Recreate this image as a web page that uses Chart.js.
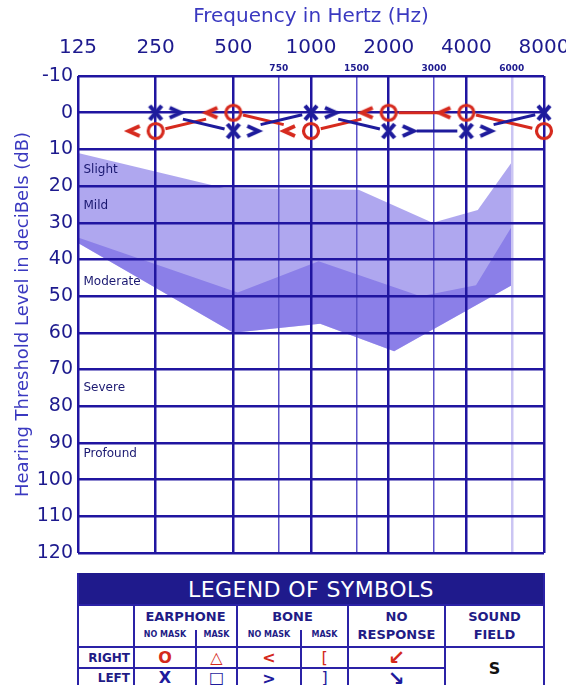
<!DOCTYPE html>
<html>
<head>
<meta charset="utf-8">
<script src="https://cdn.jsdelivr.net/npm/chart.js@4.4.1/dist/chart.umd.min.js"></script>
<style>
body { margin: 0; background: #fff; }
#wrap { position: relative; width: 566px; height: 685px; overflow: hidden; font-family: "DejaVu Sans", Verdana, sans-serif; }
#audiogram { position: absolute; left: 0; top: 0; }
#legend { position: absolute; left: 77px; top: 573px; width: 468px; height: 116px; }
#legend .head { position: absolute; left: 0; top: 0; width: 468px; height: 32px; background: #1f1a8c; color: #fff;
  font-size: 22px; line-height: 33px; text-align: center; letter-spacing: 0.4px; }
#legend .ln { position: absolute; background: #2b22a6; }
#legend .t { position: absolute; text-align: center; color: #1f1c86; font-weight: bold; white-space: nowrap; }
#legend .big { font-size: 13px; height: 16px; line-height: 16px; }
#legend .small { font-size: 8px; height: 10px; line-height: 10px; }
#legend .sym { font-size: 16px; height: 20px; line-height: 20px; }
.red { color: #d42a1c !important; }
.blue { color: #1e1b9c !important; }
</style>
</head>
<body>
<div id="wrap">
  <canvas id="audiogram" width="566" height="565"></canvas>

  <div id="legend">
    <div class="head">LEGEND OF SYMBOLS</div>
    <!-- table rules -->
    <div class="ln" style="left:0;top:31px;width:468px;height:2px"></div>
    <div class="ln" style="left:0;top:73px;width:468px;height:2px"></div>
    <div class="ln" style="left:0;top:94px;width:368px;height:2px"></div>
    <div class="ln" style="left:0;top:0;width:2px;height:116px"></div>
    <div class="ln" style="left:466px;top:0;width:2px;height:116px"></div>
    <div class="ln" style="left:56px;top:31px;width:2px;height:85px"></div>
    <div class="ln" style="left:159px;top:31px;width:2px;height:85px"></div>
    <div class="ln" style="left:270px;top:31px;width:2px;height:85px"></div>
    <div class="ln" style="left:367px;top:31px;width:2px;height:85px"></div>
    <div class="ln" style="left:118px;top:57px;width:1.5px;height:59px"></div>
    <div class="ln" style="left:223px;top:57px;width:1.5px;height:59px"></div>

    <div class="t big" style="left:57px;width:103px;top:36px">EARPHONE</div>
    <div class="t small" style="left:57px;width:62px;top:57px">NO MASK</div>
    <div class="t small" style="left:119px;width:41px;top:57px">MASK</div>
    <div class="t big" style="left:160px;width:111px;top:36px">BONE</div>
    <div class="t small" style="left:160px;width:64px;top:57px">NO MASK</div>
    <div class="t small" style="left:224px;width:47px;top:57px">MASK</div>
    <div class="t big" style="left:271px;width:97px;top:36px">NO</div>
    <div class="t big" style="left:271px;width:97px;top:54px">RESPONSE</div>
    <div class="t big" style="left:368px;width:99px;top:36px">SOUND</div>
    <div class="t big" style="left:368px;width:99px;top:54px">FIELD</div>

    <div class="t big" style="left:0;width:53px;top:77px;text-align:right;font-size:12px">RIGHT</div>
    <div class="t big" style="left:0;width:53px;top:97px;text-align:right;font-size:12px">LEFT</div>

    <div class="t sym red" style="left:57px;width:62px;top:75px">O</div>
    <div class="t sym red" style="left:119px;width:41px;top:75px;font-weight:normal">△</div>
    <div class="t sym red" style="left:160px;width:64px;top:75px">&lt;</div>
    <div class="t sym red" style="left:224px;width:47px;top:75px;font-weight:normal">[</div>
    <div class="t sym red" style="left:271px;width:97px;top:74px;font-size:20px">↙</div>

    <div class="t sym blue" style="left:57px;width:62px;top:95px">X</div>
    <div class="t sym blue" style="left:119px;width:41px;top:95px;font-weight:normal">□</div>
    <div class="t sym blue" style="left:160px;width:64px;top:96px">&gt;</div>
    <div class="t sym blue" style="left:224px;width:47px;top:95px;font-weight:normal">]</div>
    <div class="t sym blue" style="left:271px;width:97px;top:95px;font-size:20px">↘</div>

    <div class="t sym" style="left:368px;width:99px;top:86px;color:#111">S</div>
  </div>
</div>

<script>
// Ejes
const majorFreqs = [125, 250, 500, 1000, 2000, 4000, 8000];
const minorFreqs = [750, 1500, 3000, 6000];
const dbMin = -10;
const dbMax = 120;
const dbStep = 10;

// Umbrales medidos (dB HL)
const testFreqs = [250, 500, 1000, 2000, 4000, 8000];
const rightAir = [5, 0, 5, 0, 0, 5];
const leftAir = [0, 5, 0, 5, 5, 0];
const boneFreqs = [250, 500, 1000, 2000, 4000];
const rightBone = [5, 0, 5, 0, 0];
const leftBone = [0, 5, 0, 5, 5];

// Zona sombreada (banana del habla)
const bandTopFreqs = [125, 460, 1530, 2960, 4430, 6000];
const bandTopDb = [11, 20.5, 21, 30, 26.5, 13.5];
const bandMidFreqs = [125, 520, 1070, 2660, 4360, 6000];
const bandMidDb = [34, 49, 40.5, 50, 47, 31];
const bandLowFreqs = [125, 500, 1085, 2100, 6000];
const bandLowDb = [35.5, 60, 57.5, 65, 47];

// Grados de pérdida
const degreeNames = ['Slight', 'Mild', 'Moderate', 'Severe', 'Profound'];
const degreeDb = [15.5, 25.3, 46, 75, 93];

const fontFamily = '"DejaVu Sans", Verdana, sans-serif';
const gridBlue = '#2015a0';
const textBlue = '#1d1a8e';
const titleBlue = '#3a39c0';
const earRed = '#d62a1e';
const earBlue = '#1e1b9c';
const bandColor = 'rgba(110, 95, 225, 0.55)';

Chart.defaults.font.family = fontFamily;

const toPoints = (xs, ys) => xs.map((x, i) => ({ x: x, y: ys[i] }));
const hasBone = f => boneFreqs.includes(f);

// Dibuja un símbolo en un canvas pequeño para usarlo como pointStyle
function glyph(w, h, draw) {
    const c = document.createElement('canvas');
    c.width = w;
    c.height = h;
    const g = c.getContext('2d');
    draw(g, w / 2, h / 2);
    return c;
}

const circleMark = glyph(24, 24, (g, cx, cy) => {
    g.strokeStyle = earRed;
    g.lineWidth = 3.2;
    g.beginPath();
    g.arc(cx, cy, 7.5, 0, Math.PI * 2);
    g.stroke();
});
const crossMark = glyph(24, 24, (g, cx, cy) => {
    g.strokeStyle = earBlue;
    g.lineWidth = 4.2;
    g.beginPath();
    g.moveTo(cx - 6, cy - 7); g.lineTo(cx + 6, cy + 7);
    g.moveTo(cx + 6, cy - 7); g.lineTo(cx - 6, cy + 7);
    g.stroke();
});
// los símbolos de vía ósea van desplazados a un lado de la frecuencia
const boneRightMark = glyph(64, 20, (g, cx, cy) => {
    const x = cx - 22;
    g.strokeStyle = earRed;
    g.lineWidth = 4;
    g.beginPath();
    g.moveTo(x + 6, cy - 5); g.lineTo(x - 5, cy); g.lineTo(x + 6, cy + 5);
    g.stroke();
});
const boneLeftMark = glyph(64, 20, (g, cx, cy) => {
    const x = cx + 20;
    g.strokeStyle = earBlue;
    g.lineWidth = 4;
    g.beginPath();
    g.moveTo(x - 6, cy - 5); g.lineTo(x + 5, cy); g.lineTo(x - 6, cy + 5);
    g.stroke();
});

// Líneas entre símbolos, con un hueco alrededor de cada marca
const earLines = {
    id: 'earLines',
    beforeDatasetsDraw(chart) {
        const ctx = chart.ctx;
        chart.data.datasets.forEach((ds, i) => {
            if (!ds.ear) return;
            const pts = chart.getDatasetMeta(i).data;
            ctx.save();
            ctx.strokeStyle = ds.ear === 'right' ? earRed : earBlue;
            ctx.lineWidth = 3;
            for (let k = 0; k < pts.length - 1; k++) {
                const a = pts[k], b = pts[k + 1];
                const len = Math.hypot(b.x - a.x, b.y - a.y);
                const ux = (b.x - a.x) / len, uy = (b.y - a.y) / len;
                let g0, g1;
                if (ds.ear === 'right') {
                    g0 = 10;
                    g1 = hasBone(testFreqs[k + 1]) ? 28 : 12;
                } else {
                    g0 = hasBone(testFreqs[k]) ? 28 : 12;
                    g1 = 9;
                }
                ctx.beginPath();
                ctx.moveTo(a.x + ux * g0, a.y + uy * g0);
                ctx.lineTo(b.x - ux * g1, b.y - uy * g1);
                ctx.stroke();
            }
            ctx.restore();
        });
    }
};

// Etiquetas de grado de pérdida dentro del gráfico
const degreeLabels = {
    id: 'degreeLabels',
    afterDatasetsDraw(chart) {
        const { ctx, chartArea, scales } = chart;
        ctx.save();
        ctx.fillStyle = '#1a1870';
        ctx.font = '12px ' + fontFamily;
        ctx.textBaseline = 'middle';
        degreeNames.forEach((name, i) => {
            ctx.fillText(name, chartArea.left + 5.5, scales.y.getPixelForValue(degreeDb[i]));
        });
        ctx.restore();
    }
};

const lightBand = toPoints(bandTopFreqs, bandTopDb).concat(toPoints(bandLowFreqs, bandLowDb).reverse());
const darkBand = toPoints(bandMidFreqs, bandMidDb).concat(toPoints(bandLowFreqs, bandLowDb).reverse());

const bandDataset = data => ({
    data: data,
    showLine: true,
    fill: 'shape',
    backgroundColor: bandColor,
    borderWidth: 0,
    pointRadius: 0,
    order: 10
});

const markDataset = (data, style, ear) => ({
    data: data,
    ear: ear,
    pointStyle: style,
    pointRadius: 8,
    clip: false,
    order: 1
});

new Chart(document.getElementById('audiogram'), {
    type: 'scatter',
    data: {
        datasets: [
            bandDataset(lightBand),
            bandDataset(darkBand),
            markDataset(toPoints(testFreqs, rightAir), circleMark, 'right'),
            markDataset(toPoints(testFreqs, leftAir), crossMark, 'left'),
            markDataset(toPoints(boneFreqs, rightBone), boneRightMark),
            markDataset(toPoints(boneFreqs, leftBone), boneLeftMark)
        ]
    },
    options: {
        responsive: false,
        animation: false,
        events: [],
        layout: { padding: { left: 0, right: 22, top: 0, bottom: 12 } },
        plugins: {
            legend: { display: false },
            tooltip: { enabled: false },
            filler: { drawTime: 'beforeDraw' }
        },
        scales: {
            x: {
                type: 'logarithmic',
                position: 'top',
                min: 125,
                max: 8000,
                bounds: 'data',
                weight: 1,
                afterBuildTicks: s => { s.ticks = majorFreqs.map(v => ({ value: v })); },
                afterFit: s => { s.height = 62; s.paddingLeft = 0; s.paddingRight = 0; },
                ticks: {
                    autoSkip: false,
                    maxRotation: 0,
                    color: textBlue,
                    font: { size: 20 },
                    padding: 2,
                    callback: v => String(v)
                },
                grid: { color: gridBlue, lineWidth: 2.5, drawTicks: false },
                border: { display: false },
                title: {
                    display: true,
                    text: 'Frequency in Hertz (Hz)',
                    color: titleBlue,
                    font: { size: 20 },
                    padding: { top: 5, bottom: 0 }
                }
            },
            xMinor: {
                type: 'logarithmic',
                position: 'top',
                min: 125,
                max: 8000,
                bounds: 'data',
                weight: 0,
                afterBuildTicks: s => { s.ticks = minorFreqs.map(v => ({ value: v })); },
                afterFit: s => { s.height = 14; s.paddingLeft = 0; s.paddingRight = 0; },
                ticks: {
                    autoSkip: false,
                    maxRotation: 0,
                    color: textBlue,
                    font: { size: 9, weight: 'bold' },
                    padding: 2,
                    callback: v => String(v)
                },
                grid: {
                    color: c => (c.tick && c.tick.value === 6000) ? '#cbc5f3' : '#5b52c9',
                    lineWidth: c => (c.tick && c.tick.value === 6000) ? 2.5 : 1.5,
                    drawTicks: false
                },
                border: { display: false }
            },
            y: {
                type: 'linear',
                reverse: true,
                min: dbMin,
                max: dbMax,
                afterFit: s => { s.width = 78; s.paddingTop = 0; s.paddingBottom = 0; },
                ticks: { stepSize: dbStep, color: textBlue, font: { size: 19 }, padding: 5 },
                grid: { color: gridBlue, lineWidth: 2.5, drawTicks: false },
                border: { display: false },
                title: {
                    display: true,
                    text: 'Hearing Threshold Level in deciBels (dB)',
                    color: titleBlue,
                    font: { size: 18 },
                    padding: { top: 13, bottom: 0 }
                }
            }
        }
    },
    plugins: [earLines, degreeLabels]
});
</script>
</body>
</html>
